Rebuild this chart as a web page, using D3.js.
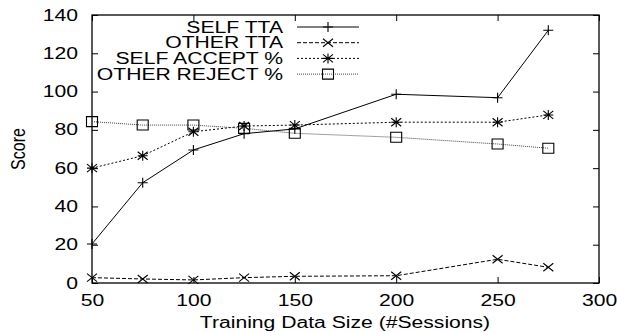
<!DOCTYPE html>
<html>
<head>
<meta charset="utf-8">
<script src="https://cdn.jsdelivr.net/npm/d3@7"></script>
<style>
  body { margin: 0; background: #fff; }
  text { font-family: "Liberation Sans", Arial, sans-serif; fill: #000; }
</style>
</head>
<body>
<div id="wrapper"></div>
<script>
const sizes = [50, 75, 100, 125, 150, 200, 250, 275];
const selfTTA = [20.4, 52.4, 69.5, 78, 80.5, 98.6, 96.8, 132];
const otherTTA = [2.8, 2.1, 1.6, 2.8, 3.5, 3.8, 12.4, 8.2];
const selfAccept = [60, 66.5, 79, 82, 82.5, 84, 84, 87.8];
const otherReject = [84.3, 82.5, 82.5, 80.8, 78.2, 76.1, 72.6, 70.4];
const xTicks = [50, 100, 150, 200, 250, 300];
const yTicks = [0, 20, 40, 60, 80, 100, 120, 140];

const series = [
    {name: "SELF TTA", values: selfTTA, dash: null, marker: "plus"},
    {name: "OTHER TTA", values: otherTTA, dash: "4,2", marker: "cross"},
    {name: "SELF ACCEPT %", values: selfAccept, dash: "2,2", marker: "star"},
    {name: "OTHER REJECT %", values: otherReject, dash: "1,1", marker: "square"}
];

var dimension = {
    width: 617,
    height: 332,
    margin: {top: 15, left: 92, bottom: 49, right: 18}
};
dimension.boundedWidth = dimension.width - dimension.margin.left - dimension.margin.right;
dimension.boundedHeight = dimension.height - dimension.margin.top - dimension.margin.bottom;

const fontSize = "16px";
const stretchX = 1.32;   // the original font is drawn wide

// widen text glyphs horizontally, keeping the anchor
function stretch(sel) {
    sel.each(function() {
        const len = this.getComputedTextLength();
        d3.select(this).attr("textLength", len * stretchX).attr("lengthAdjust", "spacingAndGlyphs");
    });
}

const svg = d3.select("#wrapper").append("svg")
    .attr("width", dimension.width)
    .attr("height", dimension.height);
const bounded = svg.append("g")
    .attr("transform", `translate(${dimension.margin.left},${dimension.margin.top})`);

const xScaler = d3.scaleLinear().domain([50, 300]).range([0, dimension.boundedWidth]);
const yScaler = d3.scaleLinear().domain([0, 140]).range([dimension.boundedHeight, 0]);

// inward ticks on all four sides
const tl = 6;
const axisStyle = g => {
    g.select(".domain").remove();
    g.selectAll("line").attr("stroke", "#000");
    g.selectAll("text").style("font-size", fontSize).call(stretch);
};
bounded.append("g")
    .attr("transform", `translate(0,${dimension.boundedHeight})`)
    .call(d3.axisBottom(xScaler).tickValues(xTicks).tickSizeInner(-tl).tickSizeOuter(0).tickPadding(12))
    .call(axisStyle);
bounded.append("g")
    .call(d3.axisLeft(yScaler).tickValues(yTicks).tickSizeInner(-tl).tickSizeOuter(0).tickPadding(14))
    .call(axisStyle);
bounded.append("g")
    .call(d3.axisTop(xScaler).tickValues(xTicks).tickSizeInner(-tl).tickSizeOuter(0).tickFormat(""))
    .call(axisStyle);
bounded.append("g")
    .attr("transform", `translate(${dimension.boundedWidth},0)`)
    .call(d3.axisRight(yScaler).tickValues(yTicks).tickSizeInner(-tl).tickSizeOuter(0).tickFormat(""))
    .call(axisStyle);

bounded.append("rect")
    .attr("width", dimension.boundedWidth)
    .attr("height", dimension.boundedHeight)
    .attr("fill", "none")
    .attr("stroke", "#000")
    .attr("stroke-width", 1.3);

function drawMarker(g, type, x, y) {
    const s = 5;
    const path = d3.path();
    if (type === "plus" || type === "star") {
        path.moveTo(x - s, y); path.lineTo(x + s, y);
        path.moveTo(x, y - s); path.lineTo(x, y + s);
    }
    if (type === "cross" || type === "star") {
        path.moveTo(x - s, y - s * 0.8); path.lineTo(x + s, y + s * 0.8);
        path.moveTo(x - s, y + s * 0.8); path.lineTo(x + s, y - s * 0.8);
    }
    if (type === "square") {
        path.rect(x - 5.5, y - 5, 11, 10);
    }
    g.append("path").attr("d", path.toString())
        .attr("fill", "none").attr("stroke", "#000").attr("stroke-width", 1.1);
}

const lineGenerator = d3.line()
    .x((d, i) => xScaler(sizes[i]))
    .y(d => yScaler(d));

series.forEach(s => {
    bounded.append("path")
        .datum(s.values)
        .attr("d", lineGenerator)
        .attr("fill", "none")
        .attr("stroke", s.dash === "1,1" ? "#444" : "#000")
        .attr("stroke-width", 1)
        .attr("stroke-dasharray", s.dash);
    const mg = bounded.append("g");
    s.values.forEach((v, i) => drawMarker(mg, s.marker, xScaler(sizes[i]), yScaler(v)));
});

// legend
const legend = svg.append("g");
series.forEach((s, i) => {
    const y = 27 + i * 15.7;
    legend.append("text")
        .attr("x", 283).attr("y", y).attr("dy", "0.36em")
        .attr("text-anchor", "end")
        .style("font-size", fontSize)
        .text(s.name)
        .call(stretch);
    legend.append("line")
        .attr("x1", 297).attr("x2", 359).attr("y1", y).attr("y2", y)
        .attr("stroke", s.dash === "1,1" ? "#444" : "#000")
        .attr("stroke-dasharray", s.dash);
    drawMarker(legend, s.marker, 328, y);
});

svg.append("text")
    .attr("x", 345)
    .attr("y", 328)
    .attr("text-anchor", "middle")
    .style("font-size", fontSize)
    .text("Training Data Size (#Sessions)")
    .call(stretch);

svg.append("text")
    .attr("transform", `translate(25,149) rotate(-90) scale(1,${stretchX})`)
    .attr("text-anchor", "middle")
    .style("font-size", fontSize)
    .text("Score");
</script>
</body>
</html>
